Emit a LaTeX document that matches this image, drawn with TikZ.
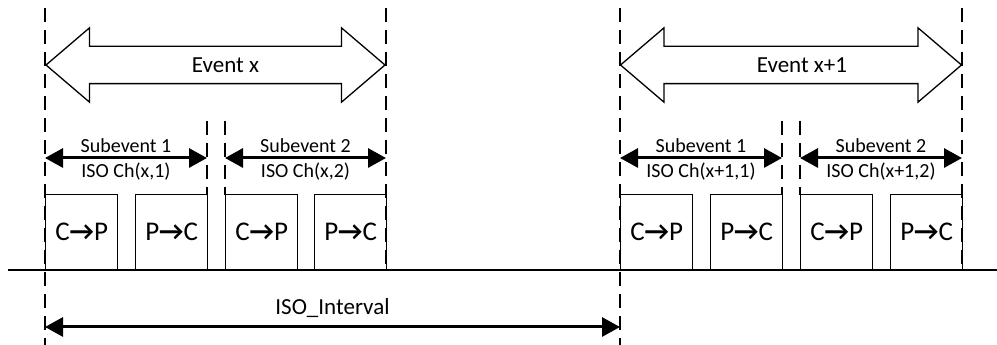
\documentclass[tikz,border=0pt]{standalone}
\usepackage{fontspec}
\setmainfont{Carlito}
\usetikzlibrary{shapes,shapes.arrows,arrows.meta,positioning}

\newcommand{\dirto}{{\bfseries →}}

\begin{document}
\begin{tikzpicture}[x=1pt,y=1pt,
    guide/.style={line width=1.3pt,dash pattern=on 14pt off 8pt},
    slot/.style={draw,line width=1.3pt,anchor=south west,inner sep=0pt,
        minimum width=72pt,minimum height=75pt,font=\fontsize{27}{27}\selectfont},
    span/.style={line width=3pt,{Triangle[length=18pt,width=19pt]}-{Triangle[length=18pt,width=19pt]}},
    bigarrow/.style={double arrow,draw,line width=1.3pt,inner sep=0pt,
        text height=18pt,text depth=18pt,
        minimum height=339pt,minimum width=73pt,
        double arrow head extend=18.5pt,double arrow tip angle=81},
    evtext/.style={font=\fontsize{23}{23}\selectfont},
    subtext/.style={font=\fontsize{20}{20}\selectfont}]
    \useasboundingbox (0,0) rectangle (997,345);

    % Event x
    \coordinate (xL) at (45,337);
    \coordinate (xA) at (207,224);
    \coordinate (xB) at (225,224);
    \coordinate (xR) at (386,337);
    \draw[guide] (xL) -- (xL |- 0,0);
    \draw[guide] (xR) -- (xR |- 0,75);
    \draw[guide] (xA) -- (xA |- 0,150);
    \draw[guide] (xB) -- (xB |- 0,150);

    \node[bigarrow] (evx) at (215.5,280) {};
    \node[evtext] (evxt) at ([xshift=10pt]evx.center) {Event x};

    \draw[span] (xL |- 0,187) -- (xA |- 0,187)
        node[midway,yshift=12pt,subtext] (sx1) {Subevent 1}
        node[midway,yshift=-14pt,subtext] (cx1) {ISO Ch(x,1)};
    \draw[span] (xB |- 0,187) -- (xR |- 0,187)
        node[midway,yshift=12pt,subtext] (sx2) {Subevent 2}
        node[midway,yshift=-14pt,subtext] (cx2) {ISO Ch(x,2)};

    \node[slot] (x1) at (45,75) {C\dirto P};
    \node[slot] (x2) at (135,75) {P\dirto C};
    \node[slot] (x3) at (225,75) {C\dirto P};
    \node[slot] (x4) at (314,75) {P\dirto C};

    % Event x+1
    \coordinate (yL) at (620,337);
    \coordinate (yA) at (782,224);
    \coordinate (yB) at (800,224);
    \coordinate (yR) at (962,337);
    \draw[guide] (yL) -- (yL |- 0,0);
    \draw[guide] (yR) -- (yR |- 0,75);
    \draw[guide] (yA) -- (yA |- 0,150);
    \draw[guide] (yB) -- (yB |- 0,150);

    \node[bigarrow,minimum height=341pt] (evy) at (791,280) {};
    \node[evtext] (evyt) at ([xshift=11pt]evy.center) {Event x+1};

    \draw[span] (yL |- 0,187) -- (yA |- 0,187)
        node[midway,yshift=12pt,subtext] (sy1) {Subevent 1}
        node[midway,yshift=-14pt,subtext] (cy1) {ISO Ch(x+1,1)};
    \draw[span] (yB |- 0,187) -- (yR |- 0,187)
        node[midway,yshift=12pt,subtext] (sy2) {Subevent 2}
        node[midway,yshift=-14pt,subtext] (cy2) {ISO Ch(x+1,2)};

    \node[slot] (y1) at (620,75) {C\dirto P};
    \node[slot] (y2) at (710,75) {P\dirto C};
    \node[slot] (y3) at (800,75) {C\dirto P};
    \node[slot] (y4) at (890,75) {P\dirto C};

    % time line
    \draw[line width=1.3pt] (8,75) -- (997,75);

    % ISO interval
    \draw[span] (xL |- 0,18) -- (yL |- 0,18)
        node[midway,yshift=19pt,evtext] (iso) {ISO\_Interval};
\end{tikzpicture}
\end{document}
